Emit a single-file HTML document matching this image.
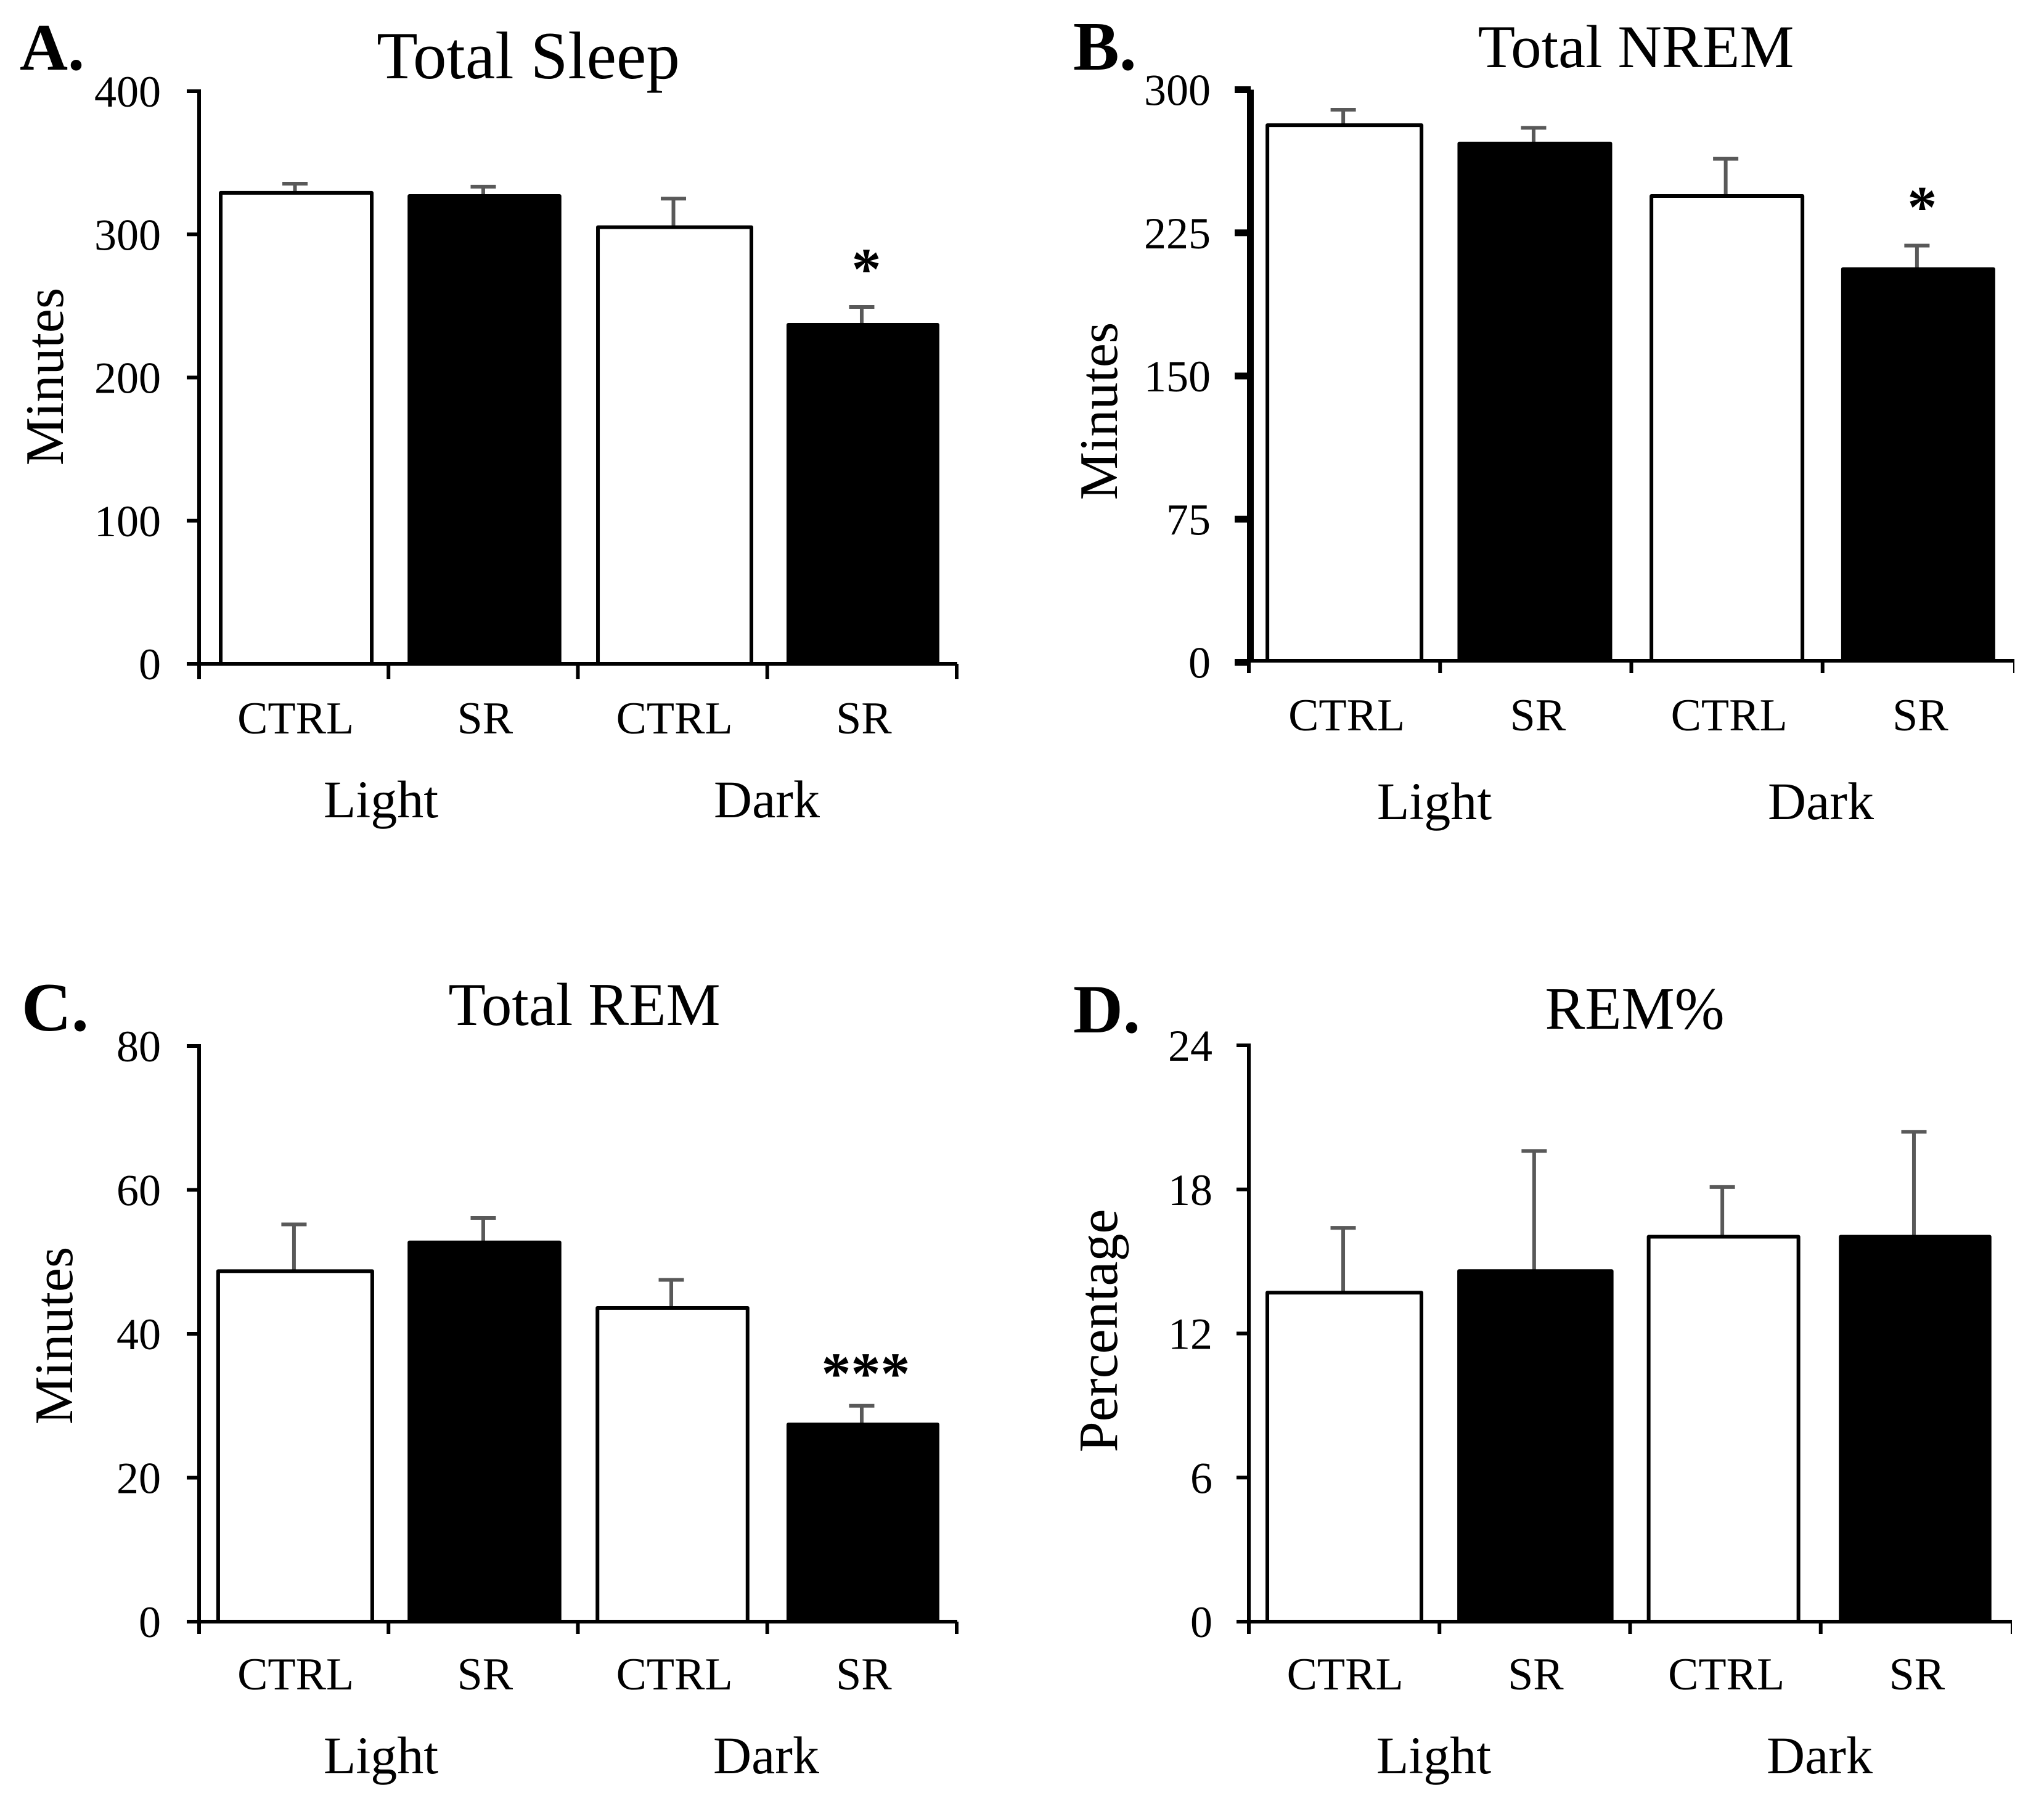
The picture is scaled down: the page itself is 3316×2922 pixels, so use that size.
<!DOCTYPE html>
<html lang="en">
<head>
<meta charset="utf-8">
<title>Sleep totals by condition</title>
<style>
html,body{margin:0;padding:0;background:#fff;}
svg{display:block;font-family:"Liberation Serif","Times New Roman",serif;}
</style>
</head>
<body>
<svg id="figure" xmlns="http://www.w3.org/2000/svg" width="3316" height="2922" viewBox="0 0 3316 2922">
<rect x="0" y="0" width="3316" height="2922" fill="#fff"/>
</svg>
<script>
// Shared categories
const categories = ["CTRL", "SR", "CTRL", "SR"];
const groups = ["Light", "Dark"];

// Panel A: Total Sleep
const panelATicks = [0, 100, 200, 300, 400];
const panelAValues = [329, 326.8, 305, 236.8];
const panelAErrors = [6.4, 6.5, 20, 12.5];
const panelASig = ["", "", "", "*"];

// Panel B: Total NREM
const panelBTicks = [0, 75, 150, 225, 300];
const panelBValues = [281.4, 271.8, 244.3, 206];
const panelBErrors = [8.1, 8.2, 19.5, 12.3];
const panelBSig = ["", "", "", "*"];

// Panel C: Total REM
const panelCTicks = [0, 20, 40, 60, 80];
const panelCValues = [48.7, 52.7, 43.6, 27.4];
const panelCErrors = [6.5, 3.4, 3.9, 2.6];
const panelCSig = ["", "", "", "***"];

// Panel D: REM%
const panelDTicks = [0, 6, 12, 18, 24];
const panelDValues = [13.7, 14.6, 16.03, 16.03];
const panelDErrors = [2.7, 5, 2.07, 4.37];
const panelDSig = ["", "", "", ""];

// Layout only (pixels); values come from the arrays above
const panels = [
  {id:"a", letter:"A.", title:"Total Sleep", yTitle:"Minutes", ticks:panelATicks, values:panelAValues, errors:panelAErrors, sig:panelASig,
   x0:323, x1:1552, yTop:148, yBot:1077, axisW:6, tickW:6, axisDx:0, axisDy:0, xTickLen:25, lastTickW:6,
   nudge:[3.9,2.1,3.4,1.6], widthAdj:[0,-1.5,4,-3],
   letterX:32, letterY:113, letterSize:108, titleX:857, titleY:127, titleSize:109,
   tickRight:261, catY:1190, catDx:3, groupY:1326, groupX:[618,1244],
   yTitleX:102, yTitleY:611, yTitleSize:88, sigDx:5.5, sigGap:29},
  {id:"b", letter:"B.", title:"Total NREM", yTitle:"Minutes", ticks:panelBTicks, values:panelBValues, errors:panelBErrors, sig:panelBSig,
   x0:2026, x1:3267, yTop:145.5, yBot:1074.5, axisW:6, tickW:11, axisDx:2.5, axisDy:-2.5, xTickLen:20, lastTickW:2,
   nudge:[0,-1.4,0,0], widthAdj:[5,0,0,-1],
   letterX:1741, letterY:113, letterSize:112, titleX:2654, titleY:109, titleSize:99,
   tickRight:1964, catY:1185, catDx:3.5, groupY:1329, groupX:[2327,2954],
   yTitleX:1812, yTitleY:667, yTitleSize:88, sigDx:6.5, sigGap:30},
  {id:"c", letter:"C.", title:"Total REM", yTitle:"Minutes", ticks:panelCTicks, values:panelCValues, errors:panelCErrors, sig:panelCSig,
   x0:323, x1:1552, yTop:1697, yBot:2631, axisW:6, tickW:6, axisDx:0, axisDy:0, xTickLen:20, lastTickW:6,
   nudge:[2.3,2.1,-0.1,1.6], widthAdj:[5,-1.5,-1.5,-3],
   letterX:35, letterY:1672, letterSize:112, titleX:948, titleY:1663, titleSize:99,
   tickRight:261, catY:2741, catDx:3, groupY:2877, groupX:[618,1243],
   yTitleX:117, yTitleY:2167, yTitleSize:88, sigDx:4.5, sigGap:20},
  {id:"d", letter:"D.", title:"REM%", yTitle:"Percentage", ticks:panelDTicks, values:panelDValues, errors:panelDErrors, sig:panelDSig,
   x0:2026, x1:3263, yTop:1696, yBot:2631, axisW:6, tickW:6, axisDx:0, axisDy:0, xTickLen:20, lastTickW:2,
   nudge:[0.4,1,-3,-1.4], widthAdj:[5,2.5,-2,-3.5],
   letterX:1741, letterY:1675, letterSize:112, titleX:2652, titleY:1669, titleSize:97,
   tickRight:1967, catY:2741, catDx:1.5, groupY:2877, groupX:[2326,2952],
   yTitleX:1812, yTitleY:2159, yTitleSize:90, sigDx:0, sigGap:25}
];

const NS = "http://www.w3.org/2000/svg";
const root = document.getElementById("figure");

function make(tag, attrs, parent, text) {
  const el = document.createElementNS(NS, tag);
  for (const k in attrs) el.setAttribute(k, attrs[k]);
  if (text !== undefined) el.textContent = text;
  parent.appendChild(el);
  return el;
}

function drawPanel(p) {
  const yMax = p.ticks[p.ticks.length - 1];
  const slot = (p.x1 - p.x0) / categories.length;
  const xScale = i => p.x0 + slot * (i + 0.5) + p.nudge[i];
  const yScale = v => p.yBot - (v / yMax) * (p.yBot - p.yTop);
  const baseY = p.yBot + p.axisDy;
  const barW = 245;
  const capW = 41;

  const g = make("g", {}, root);
  
  

  let el = make("text", {x:p.letterX, y:p.letterY, "font-size":p.letterSize, "font-weight":"bold", fill:"#000"}, g, p.letter);
  
  

  el = make("text", {x:p.titleX, y:p.titleY, "font-size":p.titleSize, "text-anchor":"middle", fill:"#000"}, g, p.title);
  
  

  el = make("text", {x:0, y:0, "font-size":p.yTitleSize, "text-anchor":"middle", fill:"#000", transform:"translate(" + p.yTitleX + " " + p.yTitleY + ") rotate(-90)"}, g, p.yTitle);
  
  

  // Error bars sit behind the bars
  p.values.forEach((v, i) => {
    const cx = xScale(i) - 2;
    const top = yScale(v + p.errors[i]);
    const stem = make("line", {x1:cx, x2:cx, y1:yScale(v) + 3, y2:top, stroke:"#595959", "stroke-width":6}, g);
    
    
    const cap = make("line", {x1:cx - capW / 2, x2:cx + capW / 2, y1:top, y2:top, stroke:"#595959", "stroke-width":6}, g);
    
    
  });

  // Bars: odd positions are SR (black), even are CTRL (white)
  p.values.forEach((v, i) => {
    const top = yScale(v);
    const dark = i % 2 === 1;
    const w = barW + p.widthAdj[i];
    const bar = make("rect", {x:xScale(i) - w / 2, y:top, width:w, height:baseY - top, fill:dark ? "#000" : "#fff", stroke:"#000", "stroke-width":6, "stroke-linejoin":"round"}, g);
    
    
    if (p.sig[i]) {
      const star = make("text", {x:xScale(i) + p.sigDx, y:yScale(v + p.errors[i]) - p.sigGap, "font-size":96, "font-weight":"bold", "text-anchor":"middle", fill:"#000"}, g, p.sig[i]);
      
      
    }
  });

  // Y axis, ticks and labels
  const yAxisW = p.tickW === 11 ? 11 : p.axisW;
  el = make("line", {x1:p.x0 + p.axisDx, x2:p.x0 + p.axisDx, y1:p.yTop, y2:baseY, stroke:"#000", "stroke-width":yAxisW}, g);
  
  

  p.ticks.forEach(t => {
    const y = yScale(t);
    const tick = make("line", {x1:p.x0 - 20 - (p.tickW === 11 ? 3 : 0), x2:p.x0 + 3, y1:y, y2:y, stroke:"#000", "stroke-width":p.tickW}, g);
    
    
    const label = make("text", {x:p.tickRight, y:y + 25, "font-size":72, "text-anchor":"end", fill:"#000"}, g, String(t));
    
    
  });

  // X axis, ticks and labels
  el = make("line", {x1:p.x0 - 3, x2:p.x1 + 1, y1:baseY, y2:baseY, stroke:"#000", "stroke-width":6}, g);
  
  

  for (let i = 0; i <= categories.length; i++) {
    const x = p.x0 + slot * i;
    const w = i === categories.length ? p.lastTickW : 6;
    const tick = make("line", {x1:x, x2:x, y1:baseY, y2:baseY + p.xTickLen, stroke:"#000", "stroke-width":w}, g);
    
    
  }

  categories.forEach((c, i) => {
    const label = make("text", {x:p.x0 + slot * (i + 0.5) + p.catDx, y:p.catY, "font-size":74, "text-anchor":"middle", fill:"#000"}, g, c);
    
    
  });

  groups.forEach((name, i) => {
    const label = make("text", {x:p.groupX[i], y:p.groupY, "font-size":86, "text-anchor":"middle", fill:"#000"}, g, name);
    
    
  });
}

panels.forEach(drawPanel);
</script>
</body>
</html>
